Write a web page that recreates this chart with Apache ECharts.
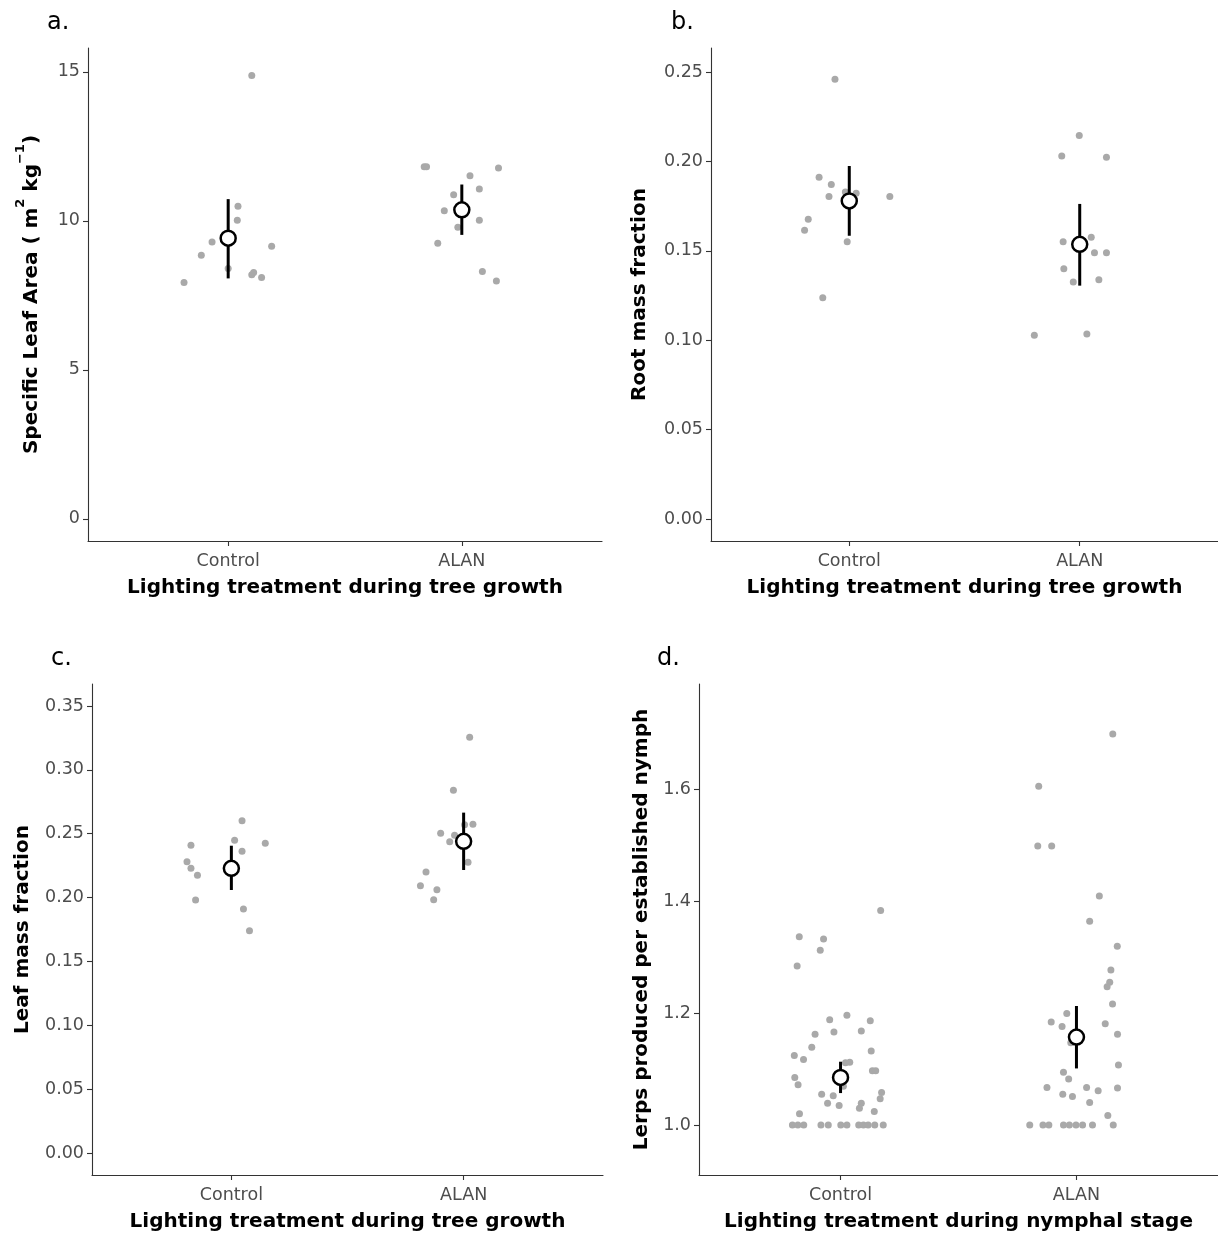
<!DOCTYPE html>
<html>
<head>
<meta charset="utf-8">
<script src="https://cdn.jsdelivr.net/npm/echarts@6/dist/echarts.min.js"></script>
<style>html,body{margin:0;padding:0;background:#fff;}#c{width:1218px;height:1235px;}</style>
</head>
<body>
<div id="c"></div>
<script>
// ---------- data ----------
const categories = ['Control', 'ALAN'];

// panel a: Specific Leaf Area
const ctrlX_a = [1.101, 1.042, 1.039, 0.931, 0.885, 1.186, 1.0, 1.101, 1.109, 1.143, 0.811];
const ctrlY_a = [14.88, 10.49, 10.02, 9.29, 8.85, 9.15, 8.40, 8.19, 8.27, 8.10, 7.93];
const alanX_a = [1.839, 1.849, 2.157, 2.035, 2.075, 1.965, 1.925, 2.075, 1.983, 1.897, 2.088, 2.148];
const alanY_a = [11.82, 11.82, 11.77, 11.51, 11.07, 10.88, 10.34, 10.02, 9.79, 9.25, 8.30, 7.98];
const mean_a = [9.42, 10.37];
const lo_a = [8.07, 9.53];
const hi_a = [10.73, 11.22];
const ticks_a = [0, 5, 10, 15];

// panel b: Root mass fraction
const ctrlX_b = [0.938, 0.869, 0.922, 0.912, 0.983, 1.030, 1.176, 0.822, 0.806, 0.991, 0.885];
const ctrlY_b = [0.2459, 0.1911, 0.1870, 0.1803, 0.1829, 0.1822, 0.1803, 0.1676, 0.1615, 0.1551, 0.1238];
const alanX_b = [1.998, 1.922, 2.116, 1.928, 2.050, 2.064, 2.116, 1.931, 1.972, 2.083, 1.803, 2.031];
const alanY_b = [0.2144, 0.2030, 0.2023, 0.1551, 0.1575, 0.1489, 0.1489, 0.1400, 0.1326, 0.1338, 0.1027, 0.1035];
const mean_b = [0.1779, 0.1536];
const lo_b = [0.1584, 0.1305];
const hi_b = [0.1974, 0.1762];
const ticks_b = [0, 0.05, 0.10, 0.15, 0.20, 0.25];

// panel c: Leaf mass fraction
const ctrlX_c = [1.046, 0.826, 1.014, 1.146, 1.046, 0.809, 0.826, 0.854, 0.846, 1.052, 1.078];
const ctrlY_c = [0.2602, 0.2409, 0.2448, 0.2425, 0.2362, 0.2281, 0.2229, 0.2174, 0.1981, 0.1910, 0.1740];
const alanX_c = [2.026, 1.956, 2.004, 2.040, 1.901, 1.961, 1.940, 2.019, 1.838, 1.814, 1.885, 1.871];
const alanY_c = [0.3255, 0.2840, 0.2571, 0.2574, 0.2503, 0.2487, 0.2437, 0.2276, 0.2200, 0.2093, 0.2062, 0.1983];
const mean_c = [0.2229, 0.2440];
const lo_c = [0.2059, 0.2216];
const hi_c = [0.2406, 0.2665];
const ticks_c = [0, 0.05, 0.10, 0.15, 0.20, 0.25, 0.30, 0.35];

// panel d: Lerps produced per established nymph
const ctrlX_d = [1.170, 0.825, 0.928, 0.914, 0.816, 1.027, 0.954, 1.126, 0.892, 0.972,
                 1.088, 0.878, 1.130, 0.804, 0.843, 1.021, 1.039, 1.135, 1.149, 0.806,
                 0.820, 1.012, 1.174, 0.920, 0.969, 1.168, 0.945, 1.088, 0.994, 1.080,
                 1.143, 0.826,
                 0.796, 0.819, 0.844, 0.917, 0.948, 1.001, 1.027, 1.077, 1.097, 1.117, 1.145, 1.181];
const ctrlY_d = [1.383, 1.336, 1.332, 1.312, 1.284, 1.196, 1.188, 1.186, 1.162, 1.166,
                 1.168, 1.139, 1.132, 1.124, 1.117, 1.111, 1.112, 1.097, 1.097, 1.085,
                 1.072, 1.069, 1.058, 1.055, 1.052, 1.047, 1.039, 1.039, 1.035, 1.030,
                 1.024, 1.020,
                 1.0, 1.0, 1.0, 1.0, 1.0, 1.0, 1.0, 1.0, 1.0, 1.0, 1.0, 1.0];
const alanX_d = [2.154, 1.840, 1.836, 1.895, 2.097, 2.056, 2.173, 2.146, 2.141, 2.130,
                 2.153, 1.959, 1.893, 2.122, 1.939, 2.174, 1.976, 2.178, 1.945, 1.967,
                 1.875, 2.043, 2.092, 2.174, 1.942, 1.983, 2.056, 2.133,
                 1.802, 1.858, 1.883, 1.945, 1.970, 1.998, 2.026, 2.068, 2.156];
const alanY_d = [1.698, 1.605, 1.498, 1.498, 1.409, 1.364, 1.319, 1.277, 1.255, 1.247,
                 1.216, 1.199, 1.184, 1.181, 1.176, 1.162, 1.147, 1.107, 1.094, 1.082,
                 1.067, 1.067, 1.061, 1.066, 1.055, 1.051, 1.040, 1.017,
                 1.0, 1.0, 1.0, 1.0, 1.0, 1.0, 1.0, 1.0, 1.0];
const mean_d = [1.085, 1.157];
const lo_d = [1.057, 1.101];
const hi_d = [1.113, 1.2125];
const ticks_d = [1.0, 1.2, 1.4, 1.6];

const panelLetters = ['a.', 'b.', 'c.', 'd.'];
const xTitles = ['Lighting treatment during tree growth', 'Lighting treatment during tree growth',
                 'Lighting treatment during tree growth', 'Lighting treatment during nymphal stage'];
const yTitles = ['{t|Specific Leaf Area ( m}{s|2}{t| kg}{s|−1}{t|)}', 'Root mass fraction',
                 'Leaf mass fraction', 'Lerps produced per established nymph'];

// ---------- layout / style ----------
const FONT = 'DejaVu Sans';
const panels = [
  {cx: ctrlX_a, cy: ctrlY_a, ax: alanX_a, ay: alanY_a, mean: mean_a, lo: lo_a, hi: hi_a, ticks: ticks_a, dec: 0,
   grid: {left: 88, top: 48, width: 514, height: 493}, ymin: -0.74, ymax: 15.8, nameGap: 46, letter: {left: 42, top: 6}},
  {cx: ctrlX_b, cy: ctrlY_b, ax: alanX_b, ay: alanY_b, mean: mean_b, lo: lo_b, hi: hi_b, ticks: ticks_b, dec: 2,
   grid: {left: 711, top: 48, width: 511, height: 493}, ymin: -0.0123, ymax: 0.2634, nameGap: 61, letter: {left: 666, top: 6}},
  {cx: ctrlX_c, cy: ctrlY_c, ax: alanX_c, ay: alanY_c, mean: mean_c, lo: lo_c, hi: hi_c, ticks: ticks_c, dec: 2,
   grid: {left: 92, top: 684, width: 511, height: 491}, ymin: -0.0172, ymax: 0.3672, nameGap: 59, letter: {left: 46, top: 642}},
  {cx: ctrlX_d, cy: ctrlY_d, ax: alanX_d, ay: alanY_d, mean: mean_d, lo: lo_d, hi: hi_d, ticks: ticks_d, dec: 1,
   grid: {left: 699, top: 684, width: 523, height: 491}, ymin: 0.9107, ymax: 1.7875, nameGap: 47, letter: {left: 652, top: 642}}
];

const option = {
  animation: false,
  backgroundColor: '#ffffff',
  textStyle: {fontFamily: FONT},
  title: [], grid: [], xAxis: [], yAxis: [], series: []
};

panels.forEach((p, i) => {
  option.title.push({text: panelLetters[i], left: p.letter.left, top: p.letter.top,
    textStyle: {fontFamily: FONT, fontSize: 24, fontWeight: 'normal', color: '#000'}});
  option.grid.push(Object.assign({containLabel: false}, p.grid));
  option.xAxis.push({
    type: 'value', gridIndex: i, min: 0.4, max: 2.6,
    name: xTitles[i], nameLocation: 'middle', nameGap: 37,
    nameTextStyle: {fontFamily: FONT, fontSize: 20, fontWeight: 'bold', color: '#000'},
    axisLine: {show: true, onZero: false, lineStyle: {color: '#333', width: 1.1}},
    axisTick: {show: true, length: 5, lineStyle: {color: '#333', width: 1.1}, customValues: [1, 2]},
    axisLabel: {show: true, margin: 11, fontSize: 17.5, color: '#4d4d4d', fontFamily: FONT,
      customValues: [1, 2], formatter: v => categories[Math.round(v) - 1]},
    splitLine: {show: false}
  });
  const yAxis = {
    type: 'value', gridIndex: i, min: p.ymin, max: p.ymax,
    name: yTitles[i], nameLocation: 'middle', nameGap: p.nameGap, nameRotate: 90,
    nameTextStyle: {fontFamily: FONT, fontSize: 20, fontWeight: 'bold', color: '#000'},
    axisLine: {show: true, onZero: false, lineStyle: {color: '#333', width: 1.1}},
    axisTick: {show: true, length: 5, lineStyle: {color: '#333', width: 1.1}, customValues: p.ticks},
    axisLabel: {show: true, margin: 8, fontSize: 17.5, color: '#4d4d4d', fontFamily: FONT,
      customValues: p.ticks, formatter: v => v.toFixed(p.dec)},
    splitLine: {show: false}
  };
  if (i === 0) {
    yAxis.nameTextStyle.rich = {
      t: {fontFamily: FONT, fontSize: 20, fontWeight: 'bold', color: '#000', lineHeight: 28, verticalAlign: 'bottom'},
      s: {fontFamily: FONT, fontSize: 13, fontWeight: 'bold', color: '#000', lineHeight: 28, verticalAlign: 'top'}
    };
  }
  option.yAxis.push(yAxis);

  const pts = p.cx.map((x, k) => [x, p.cy[k]]).concat(p.ax.map((x, k) => [x, p.ay[k]]));
  option.series.push({
    type: 'scatter', xAxisIndex: i, yAxisIndex: i, data: pts, symbolSize: 7,
    itemStyle: {color: '#a9a9a9', opacity: 1}, z: 2, silent: true
  });
  const bars = [1, 2].map((x, k) => [x, p.lo[k], p.hi[k]]);
  option.series.push({
    type: 'custom', xAxisIndex: i, yAxisIndex: i, data: bars, z: 3, silent: true,
    renderItem: (params, api) => {
      const a = api.coord([api.value(0), api.value(1)]);
      const b = api.coord([api.value(0), api.value(2)]);
      return {type: 'line', shape: {x1: a[0], y1: a[1], x2: b[0], y2: b[1]},
              style: {stroke: '#000', lineWidth: 3}};
    }
  });
  option.series.push({
    type: 'scatter', xAxisIndex: i, yAxisIndex: i, data: [1, 2].map((x, k) => [x, p.mean[k]]),
    symbolSize: 15, itemStyle: {color: '#fff', borderColor: '#000', borderWidth: 2.5, opacity: 1}, z: 4, silent: true
  });
});

const chart = echarts.init(document.getElementById('c'), null, {renderer: 'canvas'});
chart.setOption(option);
</script>
</body>
</html>
